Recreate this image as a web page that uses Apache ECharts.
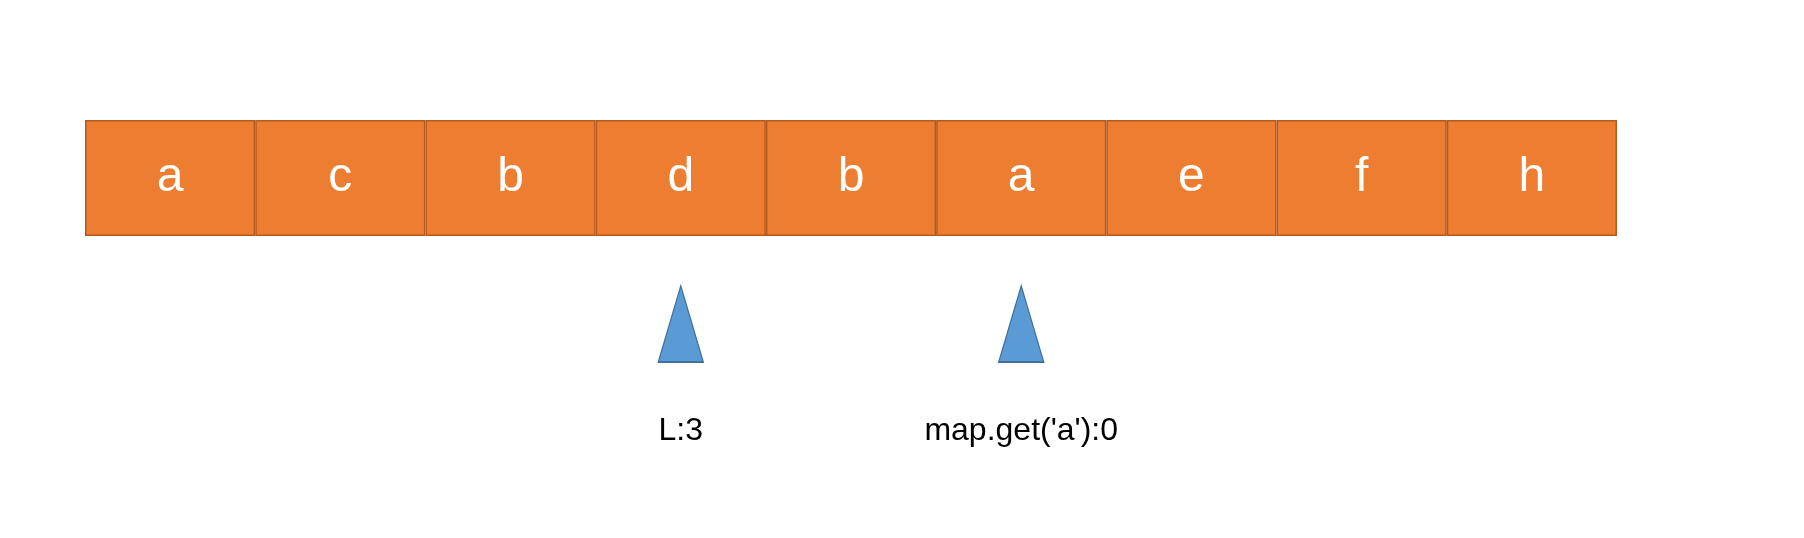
<!DOCTYPE html>
<html><head><meta charset="utf-8">
<script src="https://cdn.jsdelivr.net/npm/echarts@6/dist/echarts.min.js"></script>
<style>html,body{margin:0;background:#fff}#c{width:1804px;height:538px}</style>
</head><body><div id="c"></div>
<script>
const cells = ['a','c','b','d','b','a','e','f','h'];
const pointerIndex = [3, 5];
const pointerLabels = ['L:3', "map.get('a'):0"];

const chart = echarts.init(document.getElementById('c'));
const xCat = cells.map((_, i) => String(i));
chart.setOption({
  animation: false,
  grid: [
    {left: 85, right: 187, top: 120, height: 116},
    {left: 85, right: 187, top: 286, height: 76}
  ],
  xAxis: [
    {type: 'category', data: xCat, gridIndex: 0, show: false},
    {type: 'category', data: xCat, gridIndex: 1, show: false}
  ],
  yAxis: [
    {type: 'value', min: 0, max: 1, gridIndex: 0, show: false},
    {type: 'value', min: 0, max: 1, gridIndex: 1, show: false}
  ],
  series: [
    {
      type: 'bar', xAxisIndex: 0, yAxisIndex: 0, barWidth: '100%',
      data: cells.map(c => ({value: 1, name: c})),
      itemStyle: {color: '#ED7D31', borderColor: '#B55A1E', borderWidth: 1.5},
      label: {show: true, position: 'inside', formatter: p => p.name, color: '#fff',
        fontSize: 48, fontFamily: 'Liberation Sans, Arial, sans-serif'}
    },
    {
      type: 'scatter', xAxisIndex: 1, yAxisIndex: 1, symbol: 'triangle', symbolSize: [45, 76],
      data: pointerIndex.map((ix, k) => ({value: [String(ix), 0.5], name: pointerLabels[k]})),
      itemStyle: {color: '#5B9BD5', borderColor: '#41719C', borderWidth: 1.5, opacity: 1},
      label: {show: true, position: 'bottom', distance: 52, formatter: p => p.name, color: '#000',
        fontSize: 32, fontFamily: 'Liberation Sans, Arial, sans-serif'}
    }
  ]
});
</script></body></html>
